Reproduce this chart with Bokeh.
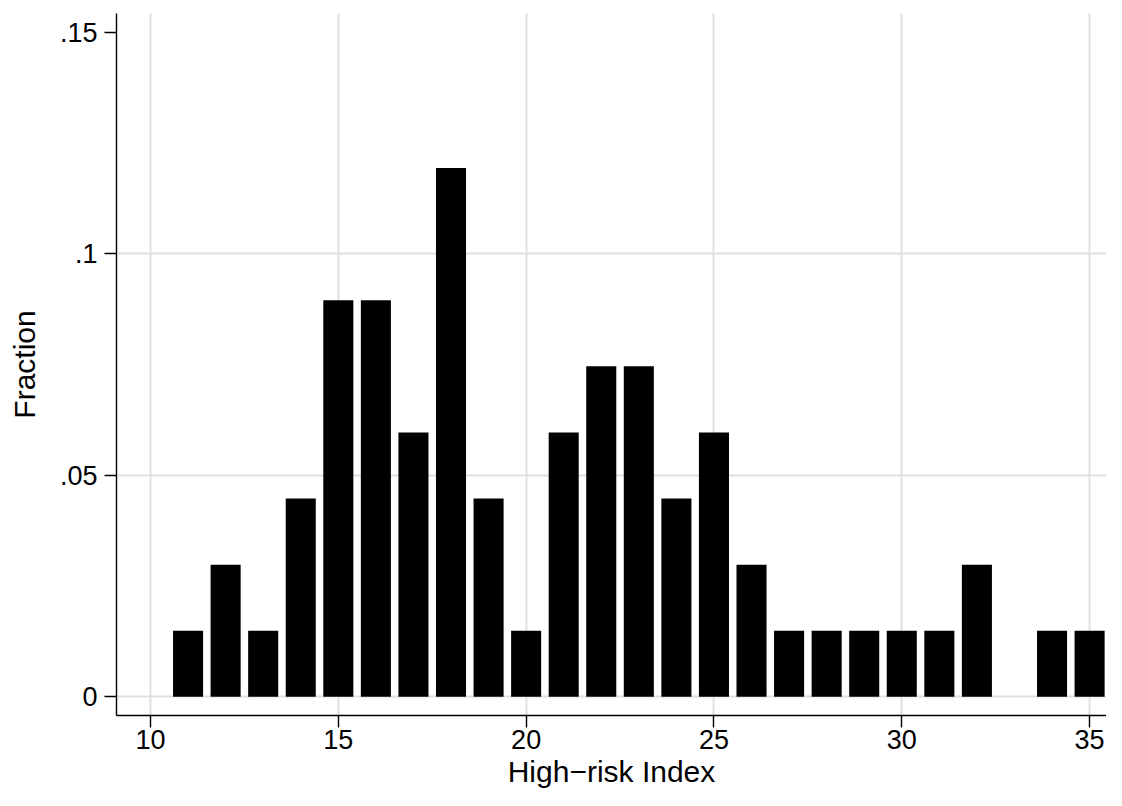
from bokeh.plotting import figure
from bokeh.models import ColumnDataSource, FixedTicker, Range1d
from bokeh.embed import file_html
from bokeh.resources import INLINE

# Data: High-risk Index values and their fractions (n = 67)
index_values = [11, 12, 13, 14, 15, 16, 17, 18, 19, 20, 21, 22, 23, 24, 25,
                26, 27, 28, 29, 30, 31, 32, 33, 34, 35]
fractions = [0.014925, 0.029851, 0.014925, 0.044776, 0.089552, 0.089552,
             0.059701, 0.119403, 0.044776, 0.014925, 0.059701, 0.074627,
             0.074627, 0.044776, 0.059701, 0.029851, 0.014925, 0.014925,
             0.014925, 0.014925, 0.014925, 0.029851, 0.0, 0.014925, 0.014925]
x_ticks = [10, 15, 20, 25, 30, 35]
y_ticks = [0, 0.05, 0.1, 0.15]
y_tick_labels = ["0", ".05", ".1", ".15"]
x_title = "High\u2212risk Index"
y_title = "Fraction"

FONT = "Liberation Sans"

src = ColumnDataSource(dict(x=index_values, top=fractions))

p = figure(width=1106, height=790, output_backend="svg", toolbar_location=None,
           x_range=Range1d(9.095, 35.45), y_range=Range1d(-0.00421, 0.1543),
           min_border_left=116, min_border_right=0, min_border_top=13,
           min_border_bottom=74)
p.outline_line_color = None
p.background_fill_color = "white"
p.border_fill_color = "white"

p.vbar(x="x", top="top", bottom=0, width=0.8, source=src,
       fill_color="black", line_color=None)

# grids
p.xgrid.ticker = FixedTicker(ticks=x_ticks)
p.ygrid.ticker = FixedTicker(ticks=y_ticks[:3])
for g in (p.xgrid, p.ygrid):
    g.grid_line_color = "#e0e0e0"
    g.grid_line_width = 2
p.grid.level = "underlay"

# axes
for ax in (p.xaxis, p.yaxis):
    ax.axis_line_color = "black"
    ax.axis_line_width = 1.4
    ax.major_tick_line_color = "black"
    ax.major_tick_line_width = 1.4
    ax.major_tick_out = 12
    ax.major_tick_in = 0
    ax.minor_tick_line_color = None
    ax.major_label_text_font = FONT
    ax.major_label_text_font_size = "27px"
    ax.major_label_text_color = "black"
    ax.axis_label_text_font = FONT
    ax.axis_label_text_font_size = "30px"
    ax.axis_label_text_font_style = "normal"
    ax.axis_label_text_color = "black"

p.xaxis.ticker = FixedTicker(ticks=x_ticks)
p.xaxis.major_label_standoff = 2
p.xaxis.axis_label = x_title
p.xaxis.axis_label_standoff = 3

p.yaxis.ticker = FixedTicker(ticks=y_ticks)
p.yaxis.major_label_overrides = {t: l for t, l in zip(y_ticks, y_tick_labels)}
p.yaxis.major_label_standoff = 7
p.yaxis.axis_label = y_title
p.yaxis.axis_label_standoff = 16

open("out.html", "w").write(file_html(p, INLINE))
